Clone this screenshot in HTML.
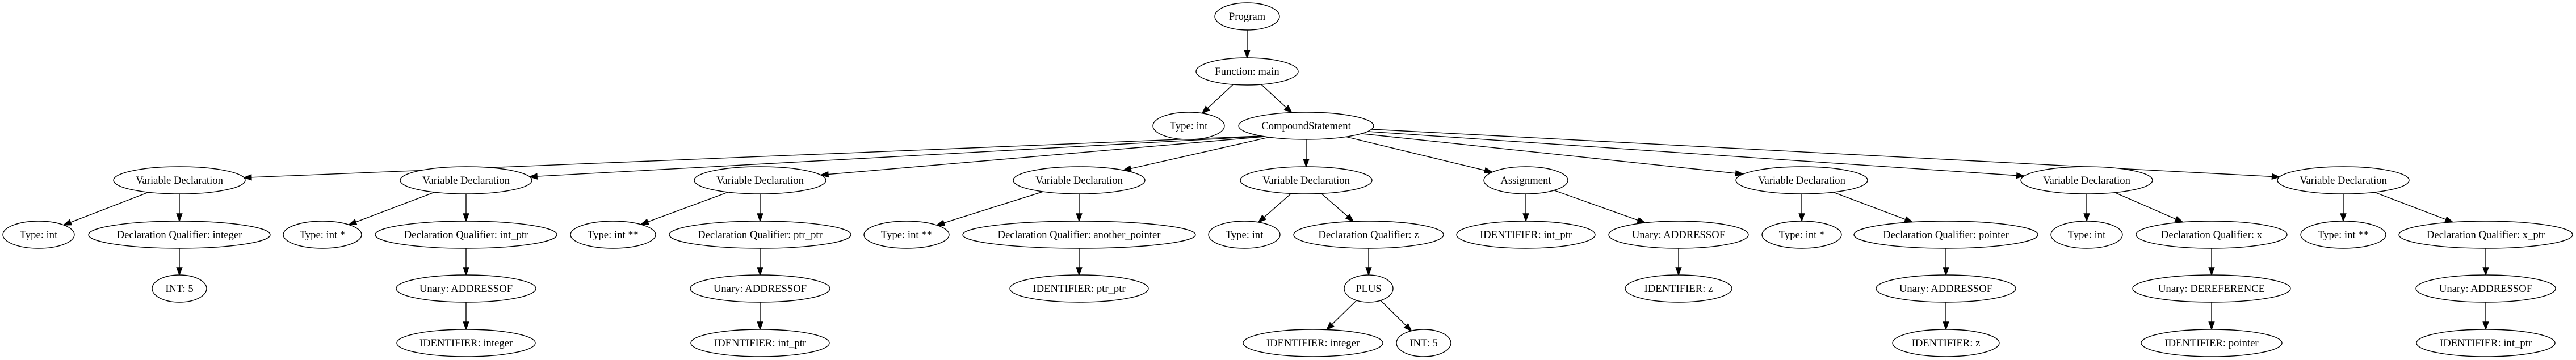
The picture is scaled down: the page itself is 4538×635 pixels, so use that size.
<!DOCTYPE html>
<html><head><meta charset="utf-8"><style>
html,body{margin:0;padding:0;background:#fff;width:4538px;height:635px;overflow:hidden}
svg text{font-family:"Liberation Serif",serif;font-size:18.67px;fill:#000}
</style></head><body>
<svg id="g" width="4538" height="635" xmlns="http://www.w3.org/2000/svg"></svg>
<script>
var L=[29,126,222,318,414,509,605];
var N={
P:[2197,0,57,"Program"],
F:[2197,1,90,"Function: main"],
T0:[2094,2,63,"Type: int"],
CS:[2301,2,119,"CompoundStatement"],
V1:[316,3,116,"Variable Declaration"],
a1:[68,4,63,"Type: int"],
b1:[316,4,160,"Declaration Qualifier: integer"],
c1:[316,5,48,"INT: 5"],
V2:[821,3,116,"Variable Declaration"],
a2:[568,4,69,"Type: int *"],
b2:[821,4,160,"Declaration Qualifier: int_ptr"],
c2:[821,5,123,"Unary: ADDRESSOF"],
d2:[821,6,122,"IDENTIFIER: integer"],
V3:[1339,3,116,"Variable Declaration"],
a3:[1080,4,75,"Type: int **"],
b3:[1339,4,160,"Declaration Qualifier: ptr_ptr"],
c3:[1339,5,123,"Unary: ADDRESSOF"],
d3:[1339,6,122,"IDENTIFIER: int_ptr"],
V4:[1901,3,116,"Variable Declaration"],
a4:[1597,4,75,"Type: int **"],
b4:[1901,4,205,"Declaration Qualifier: another_pointer"],
c4:[1901,5,122,"IDENTIFIER: ptr_ptr"],
V5:[2301,3,116,"Variable Declaration"],
a5:[2192,4,63,"Type: int"],
b5:[2411,4,132,"Declaration Qualifier: z"],
c5:[2411,5,43,"PLUS"],
d5:[2313,6,123,"IDENTIFIER: integer"],
e5:[2508,6,48,"INT: 5"],
V6:[2688,3,74,"Assignment"],
a6:[2688,4,122,"IDENTIFIER: int_ptr"],
b6:[2957,4,123,"Unary: ADDRESSOF"],
c6:[2957,5,94,"IDENTIFIER: z"],
V7:[3174,3,116,"Variable Declaration"],
a7:[3174,4,70,"Type: int *"],
b7:[3428,4,162,"Declaration Qualifier: pointer"],
c7:[3428,5,123,"Unary: ADDRESSOF"],
d7:[3428,6,94,"IDENTIFIER: z"],
V8:[3676,3,116,"Variable Declaration"],
a8:[3676,4,63,"Type: int"],
b8:[3896,4,133,"Declaration Qualifier: x"],
c8:[3896,5,139,"Unary: DEREFERENCE"],
d8:[3896,6,124,"IDENTIFIER: pointer"],
V9:[4128,3,116,"Variable Declaration"],
a9:[4128,4,75,"Type: int **"],
b9:[4379,4,153,"Declaration Qualifier: x_ptr"],
c9:[4379,5,123,"Unary: ADDRESSOF"],
d9:[4379,6,122,"IDENTIFIER: int_ptr"]
};
var S={V1:[2222,240],V2:[2224,240.5],V3:[2228,241],V4:[2236,242],V6:[2370,241],V7:[2400,236],V8:[2410,232],V9:[2416,228]};
var E=[["P","F"],["F","T0"],["F","CS"]];
for(var i=1;i<=9;i++)E.push(["CS","V"+i]);
E.push(["V1","a1"],["V1","b1"],["b1","c1"],
["V2","a2"],["V2","b2"],["b2","c2"],["c2","d2"],
["V3","a3"],["V3","b3"],["b3","c3"],["c3","d3"],
["V4","a4"],["V4","b4"],["b4","c4"],
["V5","a5"],["V5","b5"],["b5","c5"],["c5","d5"],["c5","e5"],
["V6","a6"],["V6","b6"],["b6","c6"],
["V7","a7"],["V7","b7"],["b7","c7"],["c7","d7"],
["V8","a8"],["V8","b8"],["b8","c8"],["c8","d8"],
["V9","a9"],["V9","b9"],["b9","c9"],["c9","d9"]);
var RY=24,s="";
function clip(n,dx,dy){var rx=n[2];var t=1/Math.sqrt(dx*dx/(rx*rx)+dy*dy/(RY*RY));return [dx*t,dy*t];}
E.forEach(function(e){
 var a=N[e[0]],b=N[e[1]];
 var ax=a[0],ay=L[a[1]],bx=b[0],by=L[b[1]];
 var sx,sy;
 if(e[0]=="CS"&&S[e[1]]){sx=S[e[1]][0];sy=S[e[1]][1];}
 else{var p=clip(a,bx-ax,by-ay);sx=ax+p[0];sy=ay+p[1];}
 var dx=bx-sx,dy=by-sy;
 var q=clip(b,-dx,-dy);
 var ex=bx+q[0],ey=by+q[1];
 var len=Math.hypot(ex-sx,ey-sy),ux=(ex-sx)/len,uy=(ey-sy)/len;
 var h=13,w=4.7;
 var mx=ex-ux*h,my=ey-uy*h;
 s+='<line x1="'+sx+'" y1="'+sy+'" x2="'+mx+'" y2="'+my+'" stroke="#000" stroke-width="1.4"/>';
 s+='<polygon points="'+ex+','+ey+' '+(mx-uy*w)+','+(my+ux*w)+' '+(mx+uy*w)+','+(my-ux*w)+'" fill="#000" stroke="#000" stroke-width="1.4"/>';
});
for(var k in N){var n=N[k];
 s+='<ellipse cx="'+n[0]+'" cy="'+L[n[1]]+'" rx="'+n[2]+'" ry="'+RY+'" fill="#fff" stroke="#000" stroke-width="1.4"/>';
 s+='<text x="'+n[0]+'" y="'+(L[n[1]]+6)+'" text-anchor="middle">'+n[3]+'</text>';
}
document.getElementById("g").innerHTML=s;
</script>
</body></html>
